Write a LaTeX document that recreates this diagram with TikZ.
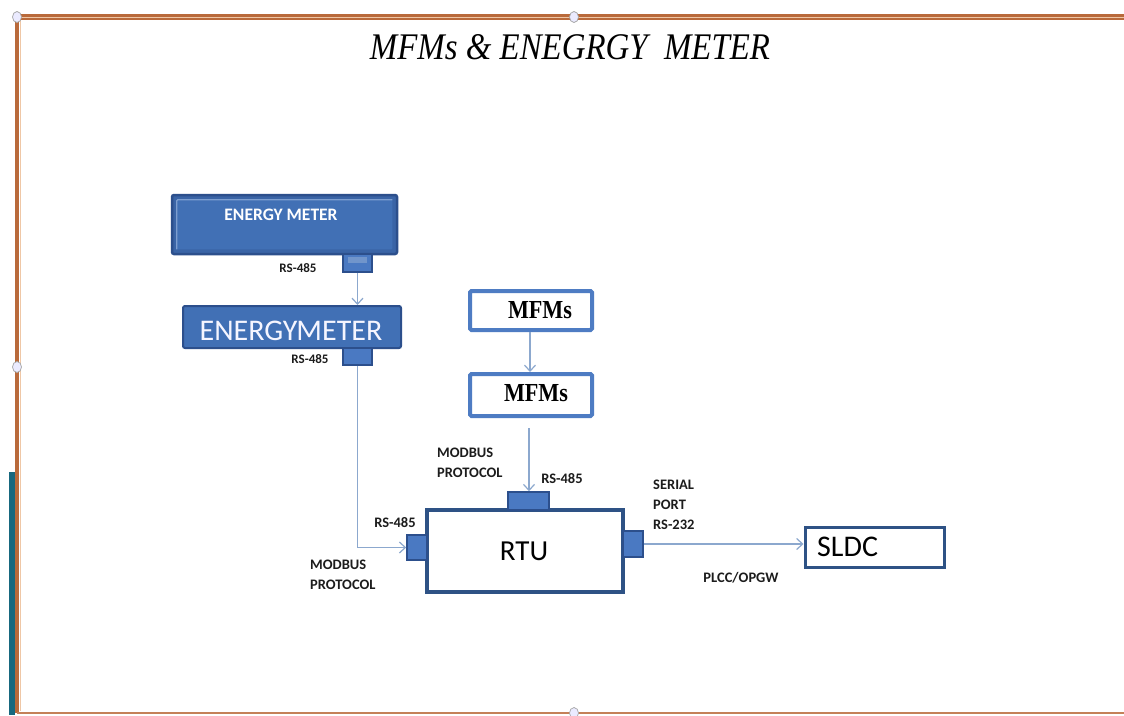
\documentclass[tikz,border=0pt]{standalone}
\usepackage{fontspec}
\usepackage{graphicx}
\setmainfont{Carlito}
\newfontfamily\tfont{Liberation Serif}
\usetikzlibrary{arrows.meta,shapes.geometric}
\definecolor{emborder}{HTML}{2C4F8C}
\definecolor{emfill}{HTML}{4170B5}
\definecolor{emdark}{HTML}{3A64A6}
\definecolor{emlight}{HTML}{7D9ED0}
\definecolor{tabfill}{HTML}{4A79C2}
\definecolor{conncol}{HTML}{8CA8CE}
\definecolor{mfmborder}{HTML}{4E7CC3}
\definecolor{rtuborder}{HTML}{2E5285}
\definecolor{framecol}{HTML}{B96A3B}
\definecolor{framelight}{HTML}{EFC7A6}
\definecolor{tealbar}{HTML}{17687F}
\definecolor{labelcol}{HTML}{1C1C1C}
\tikzset{
  embox/.style={draw=emborder, fill=emfill, line width=2.5pt, rounded corners=2pt, inner sep=0pt},
  tabbox/.style={draw=emborder, fill=tabfill, line width=1.5pt, inner sep=0pt},
  whitebox/.style={draw=rtuborder, fill=white, line width=3.5pt, inner sep=0pt},
  mfmbox/.style={draw=mfmborder, fill=white, line width=4pt, rounded corners=1.5pt, inner sep=0pt},
  conn/.style={draw=conncol, line width=1.3pt},
  arr/.style={-{Straight Barb[length=6pt,width=11pt,line width=1.2pt]}},
  lbl/.style={text=labelcol, font=\bfseries\fontsize{13}{15}\selectfont, inner sep=0pt},
  lblb/.style={text=labelcol, font=\bfseries\fontsize{14.5}{20}\selectfont, inner sep=0pt, align=left, anchor=west},
  handle/.style={draw=gray!70, fill=blue!8, ellipse, minimum width=9pt, minimum height=11pt, inner sep=0pt, line width=0.7pt},
}
\begin{document}
\begin{tikzpicture}[x=1pt,y=-1pt]
\useasboundingbox (0,0) rectangle (1124,715);
\fill[white] (0,0) rectangle (1124,715);
% frame
\fill[tealbar] (9,472) rectangle (15,715);
\draw[framecol, line width=6pt] (14,17) -- (1124,17);
\draw[framelight, line width=0.8pt] (14,17.5) -- (1124,17.5);
\draw[framecol, line width=3.5pt] (17,17) -- (17,713);
\draw[framelight, line width=0.8pt] (20,19) -- (20,711);
\draw[framecol!85, line width=2.5pt] (17,713) -- (1124,713);
\node[handle] (h1) at (17,17) {};
\node[handle] (h2) at (574,17) {};
\node[handle] (h3) at (17,367) {};
\node[handle] (h4) at (574,713) {};
% title
\node[inner sep=0pt] (title) at (570,47) {\resizebox{400pt}{25pt}{\tfont\itshape MFMs \& ENEGRGY\ \ METER}};
% energy meter 1
\node[embox, fill=emdark, minimum width=225pt, minimum height=59pt] (em1) at (284.5,224.5) {};
\fill[emfill, rounded corners=1pt] ([shift={(6pt,6pt)}]em1.south west) rectangle ([shift={(-6pt,-6pt)}]em1.north east);
\draw[emlight, line width=1.2pt, rounded corners=1pt] ([shift={(6pt,6pt)}]em1.south west) |- ([shift={(-6pt,-6pt)}]em1.north east);
\node[text=white, font=\bfseries\fontsize{17.5}{19}\selectfont, inner sep=0pt] (em1t) at (281,215) {ENERGY METER};
\node[tabbox, minimum width=29pt, minimum height=18pt] (em1tab) at (357.5,263) {};
\node[fill=emlight!80!emfill, minimum width=19pt, minimum height=6pt, inner sep=0pt] (em1tabin) at (357.5,260) {};
\node[lbl] (l1) at (298,268) {RS-485};
% energy meter 2
\node[embox, line width=2pt, minimum width=218pt, minimum height=42pt] (em2) at (292,327) {};
\node[text=white!96!blue, font=\fontsize{30}{32}\selectfont, inner sep=0pt] (em2t) at (291,331) {ENERGY\hspace{-1pt}METER};
\node[tabbox, minimum width=29pt, minimum height=17pt] (em2tab) at (357.5,356.5) {};
\node[lbl] (l2) at (310,359) {RS-485};
\draw[conn, arr] (em1tab.south) -- (em1tab.south |- em2.north);
% MFMs
\node[mfmbox, minimum width=122pt, minimum height=39pt] (mfm1) at (531,310.5) {};
\node[inner sep=0pt] (mfm1t) at (540,310) {\resizebox{64pt}{17pt}{\tfont\bfseries MFMs}};
\node[mfmbox, minimum width=122pt, minimum height=42pt] (mfm2) at (531,395) {};
\node[inner sep=0pt] (mfm2t) at (536,393) {\resizebox{64pt}{17pt}{\tfont\bfseries MFMs}};
\draw[conn, arr] (mfm1.south -| 530,0) -- (mfm2.north -| 530,0);
% RTU
\node[whitebox, minimum width=196pt, minimum height=82pt] (rtu) at (525,551) {};
\node[text=black, font=\fontsize{29}{30}\selectfont, inner sep=0pt] (rtut) at (524,551) {RTU};
\node[tabbox, minimum width=20pt, minimum height=25pt] (rtuL) at (417,547.5) {};
\node[tabbox, minimum width=20pt, minimum height=26pt] (rtuR) at (633,544) {};
\node[tabbox, minimum width=41pt, minimum height=18pt] (rtuT) at (528.5,501) {};
% SLDC
\node[whitebox, line width=3pt, minimum width=139pt, minimum height=40pt] (sldc) at (874.5,547) {};
\node[text=black, font=\fontsize{30}{32}\selectfont, inner sep=0pt, anchor=west] (sldct) at (817,547) {SLDC};
% connectors
\draw[conn, arr] (em2tab.south) |- (rtuL.west);
\draw[conn, arr, shorten <=10pt] (mfm2.south -| 529,0) -- (rtuT.north -| 529,0);
\draw[conn, arr] (rtuR.east) -- (rtuR.east -| sldc.west);
% labels
\node[lbl, font=\bfseries\fontsize{14.5}{16}\selectfont] (l3) at (395,523) {RS-485};
\node[lbl, font=\bfseries\fontsize{14.5}{16}\selectfont] (l4) at (562,479) {RS-485};
\node[lblb] (mp1) at (310,575) {MODBUS\\PROTOCOL};
\node[lblb] (mp2) at (437,463) {MODBUS\\PROTOCOL};
\node[lblb] (sp) at (653,505) {SERIAL\\PORT\\RS-232};
\node[lbl, font=\bfseries\fontsize{14.5}{16}\selectfont] (pl) at (741,578) {PLCC/OPGW};
\end{tikzpicture}
\end{document}
